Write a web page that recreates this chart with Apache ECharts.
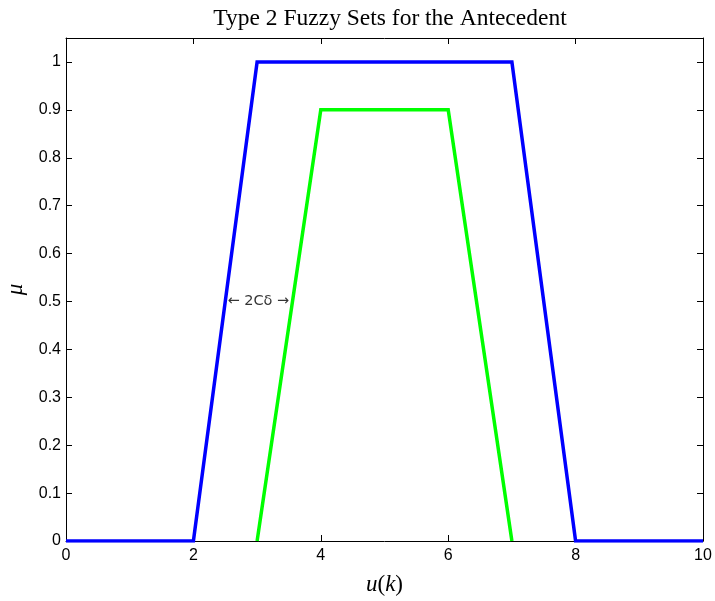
<!DOCTYPE html>
<html>
<head>
<meta charset="utf-8">
<script src="https://cdn.jsdelivr.net/npm/echarts@6/dist/echarts.min.js"></script>
<style>
  html, body { margin: 0; padding: 0; background: #fff; }
  #chart { width: 715px; height: 601px; }
</style>
</head>
<body>
<div id="chart"></div>
<script>
// upper (blue) and lower (green) membership functions
const upperX = [0, 2, 3, 7, 8, 10];
const upperY = [0, 0, 1, 1, 0, 0];
const lowerX = [3, 4, 6, 7];
const lowerY = [0, 0.9, 0.9, 0];
const xTicks = [0, 2, 4, 6, 8, 10];
const yTicks = [0, 0.1, 0.2, 0.3, 0.4, 0.5, 0.6, 0.7, 0.8, 0.9, 1];
const noteText = '\u2190 2C\u03b4 \u2192';
const notePos = [3.02, 0.5];

const chart = echarts.init(document.getElementById('chart'));

const pairs = (xs, ys) => xs.map((x, i) => [x, ys[i]]);
const tickFont = { fontFamily: 'Liberation Sans, Arial, sans-serif', fontSize: 16, color: '#000' };
const serif = 'Liberation Serif, Times New Roman, serif';

const baseX = {
  type: 'value', min: 0, max: 10, interval: 2,
  axisLine: { show: true, onZero: false, lineStyle: { color: '#000', width: 1 } },
  axisTick: { show: true, inside: true, length: 6, lineStyle: { color: '#000' } },
  splitLine: { show: false }
};
const baseY = {
  type: 'value', min: 0, max: 1.05, interval: 0.1,
  axisLine: { show: true, onZero: false, lineStyle: { color: '#000', width: 1 } },
  axisTick: { show: true, inside: true, length: 6, lineStyle: { color: '#000' } },
  splitLine: { show: false }
};

const option = {
  animation: false,
  backgroundColor: '#fff',
  title: {
    text: 'Type 2 Fuzzy Sets for the Antecedent',
    left: 385, top: 2, textAlign: 'center',
    textStyle: { fontFamily: serif, fontSize: 23.5, fontWeight: 'normal', color: '#000' }
  },
  grid: { left: 66, right: 12, top: 38, bottom: 60, containLabel: false, outerBoundsMode: 'none' },
  xAxis: [
    Object.assign({}, baseX, {
      position: 'bottom',
      name: '{i|u}{n|(}{i|k}{n|)}', nameLocation: 'middle', nameGap: 32,
      nameTextStyle: {
        rich: {
          i: { fontFamily: serif, fontStyle: 'italic', fontSize: 23, color: '#000' },
          n: { fontFamily: serif, fontSize: 23, color: '#000' }
        }
      },
      axisLabel: Object.assign({ margin: 7, formatter: v => xTicks.includes(v) ? String(v) : '' }, tickFont)
    }),
    Object.assign({}, baseX, { position: 'top', axisLabel: { show: false } })
  ],
  yAxis: [
    Object.assign({}, baseY, {
      position: 'left',
      name: '\u03bc', nameLocation: 'middle', nameGap: 36, nameRotate: 90,
      nameTextStyle: { fontFamily: serif, fontStyle: 'italic', fontSize: 23, color: '#000' },
      axisLabel: Object.assign({
        margin: 5,
        formatter: v => {
          const t = yTicks.find(y => Math.abs(y - v) < 1e-6);
          return t === undefined ? '' : String(t);
        }
      }, tickFont)
    }),
    Object.assign({}, baseY, { position: 'right', axisLabel: { show: false } })
  ],
  series: [
    {
      type: 'line', xAxisIndex: 0, yAxisIndex: 0,
      data: pairs(upperX, upperY),
      symbol: 'none',
      lineStyle: { color: '#0000ff', width: 3.5, join: 'miter' },
      z: 3
    },
    {
      type: 'line', xAxisIndex: 0, yAxisIndex: 0,
      data: pairs(lowerX, lowerY),
      symbol: 'none',
      lineStyle: { color: '#00ff00', width: 3.5, join: 'miter' },
      z: 2
    },
    {
      type: 'scatter', xAxisIndex: 0, yAxisIndex: 0,
      data: [notePos],
      symbolSize: 1,
      itemStyle: { color: 'rgba(0,0,0,0)' },
      silent: true,
      z: 4,
      label: {
        show: true, position: 'inside', formatter: noteText,
        fontFamily: 'DejaVu Sans, sans-serif', fontSize: 14.5, color: '#000',
        textBorderWidth: 0
      }
    }
  ]
};

chart.setOption(option);
</script>
</body>
</html>
